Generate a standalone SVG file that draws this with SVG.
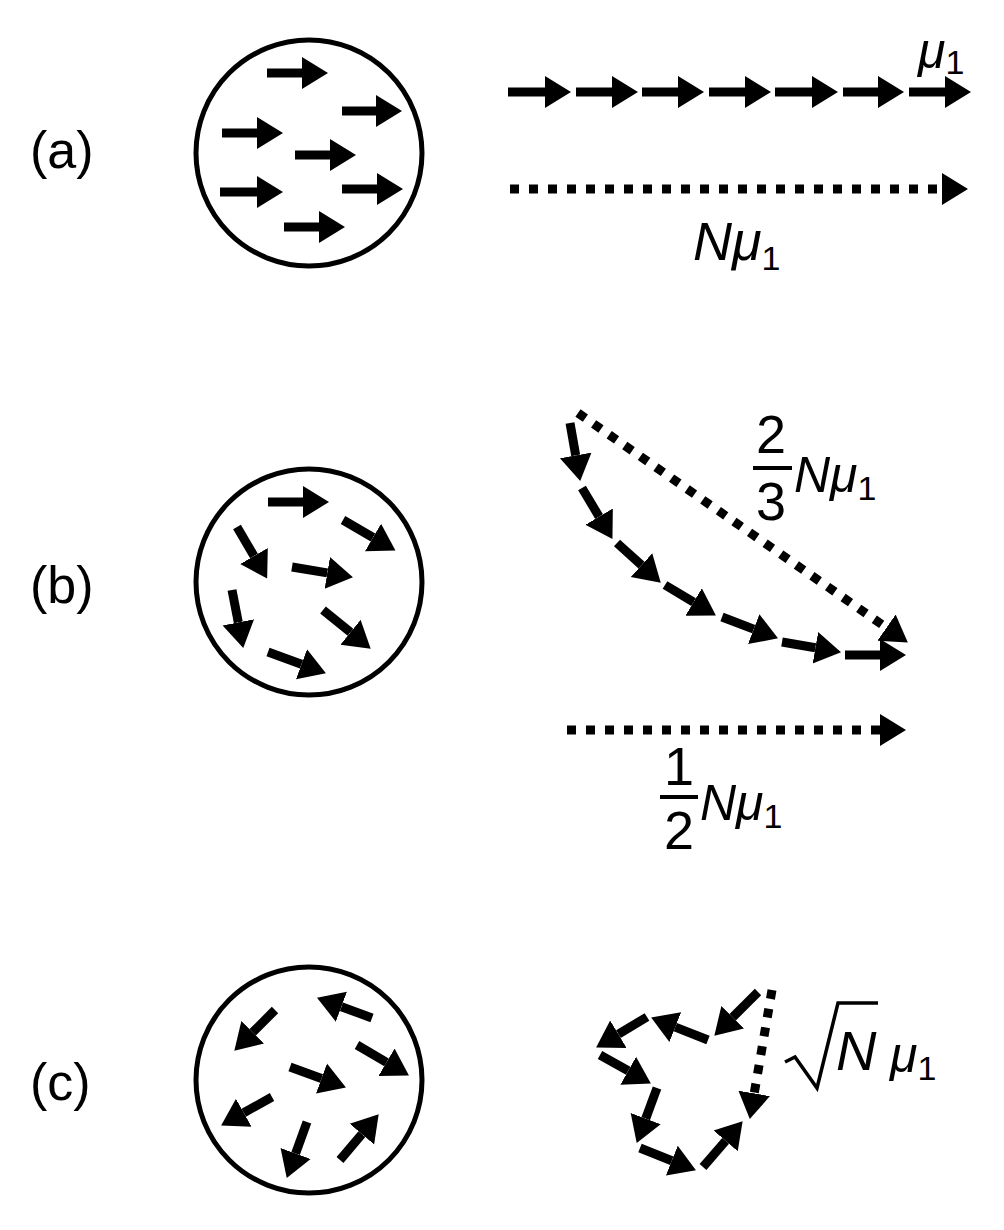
<svg xmlns="http://www.w3.org/2000/svg" width="1004" height="1230" viewBox="0 0 1004 1230">
<style>
.c{fill:none;stroke:#000;stroke-width:5}
.a{stroke:#000;stroke-width:9;fill:none;marker-end:url(#h)}
.d{stroke:#000;stroke-width:9;fill:none;stroke-dasharray:9 10;marker-end:url(#h)}
.t{font-family:"Liberation Sans",Arial,sans-serif;fill:#000}
.i{font-style:italic}
.s{font-size:34px;font-style:normal}
</style>
<defs>
<marker id="h" markerUnits="userSpaceOnUse" markerWidth="32" markerHeight="34" refX="0" refY="17" orient="auto" viewBox="0 0 32 34"><path d="M0,1 L26,17 L0,33 z" fill="#000"/></marker>
</defs>
<rect width="1004" height="1230" fill="#fff"/>
<g id="labels" class="t" font-size="52">
<text x="30" y="168">(a)</text>
<text x="30" y="603">(b)</text>
<text x="30" y="1100">(c)</text>
</g>
<g id="circle-a">
<circle class="c" cx="309" cy="153" r="113"/>
<line class="a" x1="267" y1="73" x2="302" y2="73"/>
<line class="a" x1="342" y1="111" x2="376" y2="111"/>
<line class="a" x1="222" y1="133" x2="257" y2="133"/>
<line class="a" x1="295" y1="155" x2="330" y2="155"/>
<line class="a" x1="220" y1="192" x2="257" y2="192"/>
<line class="a" x1="342" y1="189" x2="377" y2="189"/>
<line class="a" x1="284" y1="227" x2="319" y2="227"/>
</g>
<g id="circle-b">
<circle class="c" cx="309" cy="582" r="113"/>
<line class="a" x1="268" y1="502" x2="303" y2="502"/>
<line class="a" x1="343" y1="520" x2="373" y2="537.5"/>
<line class="a" x1="237" y1="527" x2="254" y2="556"/>
<line class="a" x1="292" y1="567" x2="327.3" y2="572.9"/>
<line class="a" x1="232" y1="590" x2="238.3" y2="622.4"/>
<line class="a" x1="323" y1="610" x2="350.5" y2="632.3"/>
<line class="a" x1="268" y1="652" x2="301.5" y2="664.3"/>
</g>
<g id="circle-c">
<circle class="c" cx="309" cy="1080" r="113"/>
<line class="a" x1="275" y1="1010" x2="252.7" y2="1032.3"/>
<line class="a" x1="372" y1="1018" x2="341.4" y2="1006.7"/>
<line class="a" x1="357" y1="1045" x2="386.5" y2="1062.3"/>
<line class="a" x1="290" y1="1067" x2="321.5" y2="1078.5"/>
<line class="a" x1="272" y1="1097" x2="243.8" y2="1112.8"/>
<line class="a" x1="307" y1="1122" x2="295.6" y2="1153.5"/>
<line class="a" x1="340" y1="1160" x2="361.9" y2="1134.1"/>
</g>
<g id="connectors">
<line class="a" x1="508" y1="92" x2="545" y2="92"/>
<line class="a" x1="576" y1="92" x2="612" y2="92"/>
<line class="a" x1="642" y1="92" x2="678" y2="92"/>
<line class="a" x1="709" y1="92" x2="745" y2="92"/>
<line class="a" x1="775" y1="92" x2="812" y2="92"/>
<line class="a" x1="843" y1="92" x2="878" y2="92"/>
<line class="a" x1="909" y1="92" x2="945" y2="92"/>
<line class="d" x1="510" y1="189" x2="942" y2="189"/>
<line class="a" x1="570" y1="423" x2="575.7" y2="455.4"/>
<line class="a" x1="582" y1="488" x2="599.1" y2="516.6"/>
<line class="a" x1="617" y1="543" x2="641.5" y2="565.2"/>
<line class="a" x1="665" y1="585" x2="693.6" y2="602.1"/>
<line class="a" x1="722" y1="617" x2="753.7" y2="629.1"/>
<line class="a" x1="782" y1="642" x2="815.4" y2="647.8"/>
<line class="a" x1="845" y1="655" x2="880" y2="655"/>
<line class="d" x1="578" y1="413" x2="886.5" y2="627.7"/>
<line class="d" x1="567" y1="730" x2="880" y2="730"/>
<line class="a" x1="758" y1="992" x2="732.7" y2="1017.3"/>
<line class="a" x1="708" y1="1040" x2="675.3" y2="1027.1"/>
<line class="a" x1="647" y1="1017" x2="618.4" y2="1034.2"/>
<line class="a" x1="600" y1="1055" x2="628.2" y2="1070.8"/>
<line class="a" x1="657" y1="1088" x2="645.7" y2="1118.6"/>
<line class="a" x1="640" y1="1148" x2="671.8" y2="1160.7"/>
<line class="a" x1="703" y1="1167" x2="725.6" y2="1140.9"/>
<line class="d" x1="772" y1="990" x2="754.2" y2="1093.4"/>
</g>
<g id="math" class="t">
<text x="918" y="68" font-size="50" class="i">μ<tspan class="s" dy="6">1</tspan></text>
<text x="693" y="260" font-size="54" class="i">Nμ<tspan class="s" dy="10">1</tspan></text>
<text x="771" y="453" font-size="54" text-anchor="middle">2</text>
<line x1="753" y1="468" x2="792" y2="468" stroke="#000" stroke-width="4"/>
<text x="771" y="520" font-size="54" text-anchor="middle">3</text>
<text x="794" y="492" font-size="50" class="i">Nμ<tspan class="s" dy="8">1</tspan></text>
<text x="679" y="785" font-size="54" text-anchor="middle">1</text>
<line x1="660" y1="797" x2="698" y2="797" stroke="#000" stroke-width="4"/>
<text x="679" y="849" font-size="54" text-anchor="middle">2</text>
<text x="700" y="820" font-size="50" class="i">Nμ<tspan class="s" dy="8">1</tspan></text>
<polyline points="785,1062 795,1057 817,1088 838,1003 878,1003" fill="none" stroke="#000" stroke-width="3.5"/>
<text x="836" y="1070" font-size="56" class="i">N</text>
<text x="890" y="1072" font-size="50" class="i">μ<tspan class="s" dy="8">1</tspan></text>
</g>
</svg>
